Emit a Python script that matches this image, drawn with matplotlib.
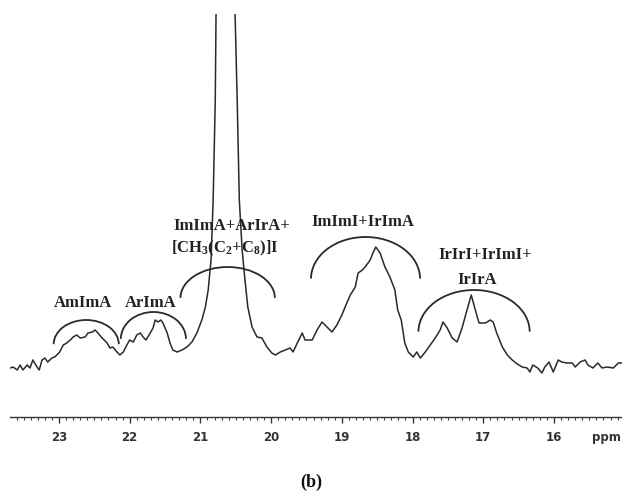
import matplotlib
matplotlib.use("Agg")
from matplotlib import pyplot as plt
from matplotlib.patches import Arc
from matplotlib.ticker import MultipleLocator

# chemical shift (ppm) and intensity (arbitrary units)
ppm = [23.69, 23.65, 23.59, 23.55, 23.51, 23.45, 23.41, 23.37, 23.31, 23.28,
       23.24, 23.20, 23.16, 23.10, 23.06, 22.99, 22.94, 22.89, 22.84, 22.80,
       22.75, 22.70, 22.63, 22.59, 22.53, 22.49, 22.45, 22.39, 22.32, 22.28,
       22.24, 22.18, 22.14, 22.09, 22.04, 22.00, 21.95, 21.90, 21.85, 21.81,
       21.77, 21.71, 21.67, 21.64, 21.60, 21.56, 21.53, 21.47, 21.43, 21.39,
       21.33, 21.26, 21.19, 21.12, 21.05, 20.98, 20.93, 20.89, 20.85, 20.82,
       20.79, 20.78, 20.75, 20.65, 20.55, 20.51, 20.48, 20.45, 20.41, 20.37,
       20.33, 20.27, 20.20, 20.13, 20.06, 19.99, 19.94, 19.87, 19.80, 19.73,
       19.69, 19.63, 19.56, 19.52, 19.42, 19.35, 19.28, 19.21, 19.14, 19.07,
       19.00, 18.93, 18.88, 18.81, 18.77, 18.71, 18.67, 18.60, 18.56, 18.52,
       18.46, 18.39, 18.32, 18.25, 18.21, 18.16, 18.11, 18.06, 17.99, 17.94,
       17.89, 17.82, 17.75, 17.68, 17.61, 17.57, 17.51, 17.44, 17.37, 17.30,
       17.23, 17.17, 17.12, 17.06, 16.97, 16.90, 16.86, 16.81, 16.73, 16.66,
       16.59, 16.52, 16.45, 16.38, 16.34, 16.30, 16.23, 16.17, 16.13, 16.07,
       16.01, 15.94, 15.89, 15.82, 15.74, 15.70, 15.63, 15.56, 15.52, 15.45,
       15.38, 15.32, 15.25, 15.16, 15.09, 15.04]
intensity = [49, 50, 47, 52, 47, 52, 49, 57, 50, 47,
             57, 59, 55, 59, 60, 65, 72, 74, 77, 80,
             82, 79, 80, 84, 85, 87, 84, 79, 74, 69,
             70, 65, 62, 65, 72, 77, 75, 82, 84, 80,
             77, 84, 89, 97, 95, 97, 94, 84, 74, 67,
             65, 67, 70, 75, 84, 97, 110, 127, 157, 217,
             317, 403, 567, 817, 567, 403, 317, 217, 167, 137,
             110, 90, 80, 79, 70, 64, 62, 65, 67, 69,
             65, 74, 84, 77, 77, 87, 95, 90, 85, 92,
             102, 114, 122, 130, 144, 147, 150, 157, 164, 170,
             164, 150, 140, 127, 107, 97, 74, 65, 60, 65,
             59, 65, 72, 79, 87, 95, 89, 79, 75, 89,
             107, 122, 109, 94, 94, 97, 95, 84, 70, 62,
             57, 53, 50, 49, 45, 52, 49, 44, 50, 55,
             45, 57, 55, 54, 54, 50, 55, 57, 52, 49,
             54, 49, 50, 49, 54, 54]

# brackets: left ppm, right ppm, end height, top height
brackets = [
    (23.06, 22.17, 79, 97),
    (22.11, 21.22, 85, 105),
    (21.26, 19.97, 127, 150),
    (19.41, 17.92, 149, 180),
    (17.89, 16.37, 96, 127),
]

# labels: text, ppm, height
labels = [
    ("AmImA", 22.66, 114),
    ("ArImA", 21.71, 114),
    ("ImImA+ArIrA+", 20.55, 191),
    ("[CH$_3$(C$_2$+C$_8$)]I", 20.65, 169),
    ("ImImI+IrImA", 18.70, 195),
    ("IrIrI+IrImI+", 16.97, 162),
    ("IrIrA", 17.09, 137),
]

plt.rcParams['mathtext.fontset'] = 'custom'
plt.rcParams['mathtext.rm'] = 'Liberation Serif:bold'
plt.rcParams['mathtext.it'] = 'Liberation Serif:bold'
plt.rcParams['mathtext.bf'] = 'Liberation Serif:bold'
plt.rcParams['mathtext.default'] = 'rm'

fig = plt.figure(figsize=(6.22, 4.95), dpi=100)
ax = fig.add_axes([10 / 622, 78 / 495, 612 / 622, 403 / 495])
ax.plot(ppm, intensity, color='#2a2a2a', lw=1.1)
ax.set_xlim(23.693, 15.038)
ax.set_ylim(0, 403)

for side in ('top', 'left', 'right'):
    ax.spines[side].set_visible(False)
ax.spines['bottom'].set_color('#333333')
ax.spines['bottom'].set_linewidth(1.0)
ax.set_yticks([])
ax.xaxis.set_major_locator(MultipleLocator(1))
ax.xaxis.set_minor_locator(MultipleLocator(0.1))
ax.tick_params(axis='x', which='major', length=4, width=1.0, color='#333333',
               pad=6, labelsize=8.5, labelcolor='#333333')
ax.tick_params(axis='x', which='minor', length=2, width=0.8, color='#444444')
for t in ax.get_xticklabels():
    t.set_fontweight('bold')

s = 0.2588  # sin(15 deg)
for left, right, end, top in brackets:
    half = abs(left - right) / 2 / 0.9659
    b = (top - end) / (1 - s)
    arc = Arc(((left + right) / 2, top - b), 2 * half, 2 * b, theta1=15, theta2=165,
              color='#2a2a2a', lw=1.3)
    ax.add_patch(arc)

for text, x, y in labels:
    ax.text(x, y, text, ha='center', va='center', fontsize=12,
            family='Liberation Serif', fontweight='bold', color='#222222')

fig.text(621 / 622, 1 - 437 / 495, 'ppm', ha='right', va='center', fontsize=8.5,
         fontweight='bold', color='#333333')
fig.text(311 / 622, 1 - 482 / 495, '(b)', ha='center', va='center', fontsize=13,
         family='Liberation Serif', fontweight='bold', color='#111111')

fig.savefig('out.png', dpi=100)
